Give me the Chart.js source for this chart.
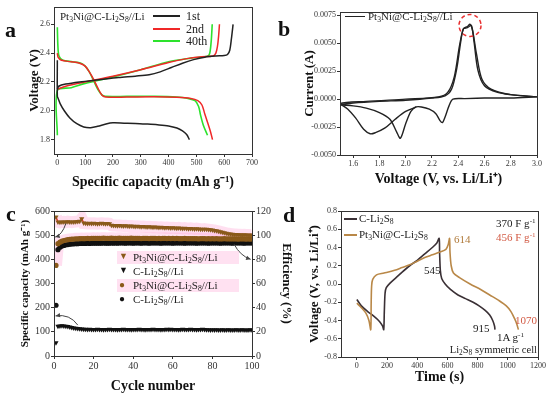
<!DOCTYPE html>
<html>
<head>
<meta charset="utf-8">
<script src="https://cdn.jsdelivr.net/npm/chart.js@4.4.0/dist/chart.umd.min.js"></script>
<style>
body{margin:0;background:#fff;width:550px;height:396px;position:relative;overflow:hidden;font-family:"Liberation Serif","Times New Roman",serif;color:#222;}
canvas{position:absolute;}
.t{position:absolute;white-space:nowrap;line-height:1;}
.big{font-weight:bold;font-size:22px;color:#111;}
.ln{position:absolute;height:0;}
sub{font-size:70%;vertical-align:-2px;line-height:0;}
sup{font-size:65%;vertical-align:4px;line-height:0;}
</style>
</head>
<body>
<canvas id="ca" width="275" height="195" style="left:0;top:0"></canvas>
<canvas id="cb" width="275" height="195" style="left:275px;top:0"></canvas>
<canvas id="cc" width="295" height="201" style="left:0;top:195px"></canvas>
<canvas id="cd" width="253" height="201" style="left:297px;top:195px"></canvas>

<!-- panel a labels -->
<div class="t big" style="left:5px;top:19px">a</div>
<div class="t" style="left:60px;top:11px;font-size:11px">Pt<sub>3</sub>Ni@C-Li<sub>2</sub>S<sub>8</sub>//Li</div>
<div class="ln" style="left:153px;top:15px;width:27px;border-top:2px solid #222"></div>
<div class="ln" style="left:153px;top:28px;width:27px;border-top:2px solid #f02828"></div>
<div class="ln" style="left:153px;top:40px;width:27px;border-top:2px solid #2de22d"></div>
<div class="t" style="left:186px;top:10px;font-size:12px">1st</div>
<div class="t" style="left:186px;top:23px;font-size:12px">2nd</div>
<div class="t" style="left:186px;top:35px;font-size:12px">40th</div>

<!-- panel b labels -->
<div class="t big" style="left:278px;top:18px">b</div>
<div class="ln" style="left:345px;top:16px;width:20px;border-top:1.5px solid #222"></div>
<div class="t" style="left:368px;top:11px;font-size:11px">Pt<sub>3</sub>Ni@C-Li<sub>2</sub>S<sub>8</sub>//Li</div>

<!-- panel c labels -->
<div class="t big" style="left:6px;top:203px">c</div>
<div class="t" style="left:117px;top:251px;width:122px;height:13px;background:rgba(255,200,230,0.55)"></div>
<div class="t" style="left:117px;top:279px;width:122px;height:13px;background:rgba(255,200,230,0.55)"></div>
<div class="t" style="left:119px;top:252px;font-size:9px;color:#8a5a1a">&#9660;</div>
<div class="t" style="left:133px;top:252px;font-size:11px">Pt<sub>3</sub>Ni@C-Li<sub>2</sub>S<sub>8</sub>//Li</div>
<div class="t" style="left:119px;top:266px;font-size:9px;color:#111">&#9660;</div>
<div class="t" style="left:133px;top:266px;font-size:11px">C-Li<sub>2</sub>S<sub>8</sub>//Li</div>
<div class="t" style="left:119px;top:280px;font-size:10px;color:#8a5a1a">&#9679;</div>
<div class="t" style="left:133px;top:280px;font-size:11px">Pt<sub>3</sub>Ni@C-Li<sub>2</sub>S<sub>8</sub>//Li</div>
<div class="t" style="left:119px;top:294px;font-size:10px;color:#111">&#9679;</div>
<div class="t" style="left:133px;top:294px;font-size:11px">C-Li<sub>2</sub>S<sub>8</sub>//Li</div>

<!-- panel d labels -->
<div class="t big" style="left:283px;top:204px">d</div>
<div class="ln" style="left:344px;top:218px;width:13px;border-top:2px solid #3a3035"></div>
<div class="ln" style="left:344px;top:234px;width:13px;border-top:2px solid #b98848"></div>
<div class="t" style="left:359px;top:213px;font-size:11px">C-Li<sub>2</sub>S<sub>8</sub></div>
<div class="t" style="left:359px;top:229px;font-size:11px">Pt<sub>3</sub>Ni@C-Li<sub>2</sub>S<sub>8</sub></div>
<div class="t" style="left:496px;top:218px;font-size:11px">370 F g<sup>-1</sup></div>
<div class="t" style="left:496px;top:232px;font-size:11px;color:#d25a44">456 F g<sup>-1</sup></div>
<div class="t" style="left:424px;top:265px;font-size:11px">545</div>
<div class="t" style="left:454px;top:234px;font-size:11px;color:#b07a3a">614</div>
<div class="t" style="left:473px;top:323px;font-size:11px">915</div>
<div class="t" style="left:515px;top:315px;font-size:11px;color:#d25a44">1070</div>
<div class="t" style="left:497px;top:332px;font-size:11px">1A g<sup>-1</sup></div>
<div class="t" style="right:13px;top:345px;font-size:10.5px">Li<sub>2</sub>S<sub>8</sub> symmetric cell</div>

<script>
// ---- panel a: charge / discharge profiles (capacity, voltage)
var aFirstDis = [[0,2.35],[0,2.1],[3,2.085],[10,2.05],[25,2.0],[45,1.95],[70,1.91],[95,1.888],[120,1.883],[145,1.892],[175,1.908],[200,1.916],[240,1.914],[280,1.912],[320,1.908],[360,1.903],[400,1.895],[430,1.88],[450,1.86],[465,1.835],[475,1.8]];
var aFirstCha = [[0,2.15],[5,2.17],[30,2.185],[80,2.2],[150,2.215],[220,2.23],[280,2.24],[330,2.25],[370,2.27],[410,2.3],[450,2.33],[490,2.355],[530,2.372],[570,2.38],[600,2.383],[612,2.39],[620,2.42],[626,2.5],[632,2.6]];
var aSecondDis = [[0,2.4],[3,2.37],[15,2.35],[50,2.34],[80,2.33],[100,2.31],[115,2.27],[130,2.22],[145,2.16],[160,2.11],[175,2.095],[250,2.095],[350,2.097],[430,2.093],[480,2.085],[505,2.07],[520,2.04],[530,1.98],[540,1.92],[550,1.86],[558,1.8]];
var aSecondCha = [[0,2.15],[30,2.17],[100,2.2],[200,2.24],[300,2.285],[400,2.335],[460,2.36],[520,2.375],[560,2.38],[570,2.4],[576,2.45],[580,2.52],[583,2.6]];
var aFortiethDis = [[0,2.58],[2,2.45],[6,2.38],[20,2.35],[55,2.34],[85,2.33],[100,2.31],[115,2.27],[130,2.21],[145,2.15],[160,2.11],[172,2.1],[250,2.1],[350,2.1],[430,2.095],[470,2.085],[495,2.07],[508,2.03],[515,1.97],[525,1.9],[540,1.83]];
var aFortiethCha = [[0,1.83],[0,2.14],[50,2.16],[100,2.19],[200,2.235],[300,2.285],[400,2.34],[480,2.365],[530,2.375],[545,2.385],[550,2.42],[554,2.5],[557,2.6]];
var aXTicks = [0,100,200,300,400,500,600,700];
var aYTicks = [1.8,2.0,2.2,2.4,2.6];

// ---- panel b: cyclic voltammetry (voltage, current)
var bCycle1 = [[3.0,0.0002],[2.8,0.0001],[2.6,0.0001],[2.45,0.00005],[2.36,0],[2.33,-0.0006],[2.3,-0.0016],[2.28,-0.0021],[2.26,-0.0019],[2.23,-0.0013],[2.18,-0.0009],[2.12,-0.0007],[2.08,-0.0007],[2.04,-0.0011],[2.0,-0.0022],[1.96,-0.0035],[1.93,-0.0029],[1.88,-0.0018],[1.8,-0.0012],[1.7,-0.0008],[1.6,-0.0006],[1.5,-0.0005],[1.6,-0.00035],[1.8,-0.0002],[2.0,-0.0001],[2.2,0.0001],[2.3,0.0003],[2.35,0.0009],[2.39,0.0028],[2.42,0.0052],[2.44,0.0063],[2.47,0.0064],[2.5,0.0066],[2.52,0.0052],[2.55,0.0026],[2.6,0.0012],[2.7,0.0006],[2.8,0.0004],[3.0,0.0002]];
var bCycle2 = [[2.08,-0.0007],[2.0,-0.0011],[1.92,-0.0018],[1.84,-0.0026],[1.77,-0.003],[1.73,-0.0031],[1.68,-0.0027],[1.62,-0.0017],[1.56,-0.0009],[1.5,-0.0004],[1.7,-0.0002],[2.0,0],[2.25,0.0002],[2.32,0.0006],[2.37,0.002],[2.41,0.0048],[2.44,0.0063],[2.47,0.0065],[2.49,0.0067],[2.51,0.0061],[2.54,0.004],[2.58,0.0018],[2.65,0.0009],[2.8,0.0004],[3.0,0.0002]];
var bXTicks = [1.6,1.8,2.0,2.2,2.4,2.6,2.8,3.0];
var bYTicks = [-0.005,-0.0025,0,0.0025,0.005,0.0075];

// ---- panel c: cycling (capacity mAh/g, efficiency %)
var capPt = [575,555,553,554,555,554,556,555,554,555,556,557,558,568,550,549,548,549,548,549,548,547,548,549,548,547,548,547,541,540,
  540,539,540,539,538,539,538,537,538,537,536,537,536,535,536,535,534,535,534,533,534,533,532,533,532,531,532,531,530,531,
  530,529,530,529,528,529,528,527,528,527,526,527,526,525,524,525,524,523,522,521,519,518,516,514,512,510,508,506,505,504,
  503,503,502,502,501,502,501,501,500,501];
var capC = [55,123,124,125,124,123,122,120,118,116,115,114,113,112,111,111,110,111,110,110,
  110,111,110,110,109,110,110,111,110,110,110,109,110,110,111,110,110,110,109,110,
  110,110,111,110,110,109,110,110,110,111,110,110,110,109,110,110,111,110,111,110,
  110,110,109,110,111,110,110,110,111,110,110,109,110,110,111,110,109,109,108,109,
  108,109,108,108,109,108,108,109,108,108,108,109,108,108,109,108,108,108,109,108];
var effPt = [75,93,94.2,95,95.6,96,96.3,96.5,96.7,96.8,97,97,97.1,97.2,97.1,97.2,97.3,97.2,97.3,97.4,
  97.3,97.4,97.3,97.4,97.5,97.4,97.3,97.4,97.5,97.4,97.3,97.4,97.5,97.4,97.3,97.4,97.3,97.4,97.5,97.4,
  97.3,97.4,97.3,97.2,97.3,97.4,97.3,97.2,97.3,97.4,97.3,97.2,97.3,97.2,97.3,97.4,97.2,97.3,97.2,97.3,
  97.2,97.3,97.2,97.1,97.2,97.3,97.2,97.1,97.2,97.1,97.2,97.1,97.0,97.1,97.2,97.1,97.0,97.1,97.0,97.1,
  97.0,97.1,97.0,96.9,97.0,97.1,97.0,96.9,97.0,96.9,97.0,96.9,96.8,96.9,97.0,96.9,96.8,96.9,96.8,96.9];
var effC = [42,88,90,91,91.5,92,92.2,92.5,92.7,92.8,93,93,93.1,93.2,93.1,93.2,93.3,93.2,93.3,93.4,
  93.3,93.4,93.3,93.4,93.5,93.4,93.3,93.4,93.5,93.4,93.5,93.4,93.5,93.6,93.5,93.4,93.5,93.6,93.5,93.4,
  93.5,93.6,93.5,93.4,93.5,93.6,93.5,93.4,93.5,93.6,93.5,93.6,93.5,93.4,93.5,93.6,93.5,93.6,93.5,93.4,
  93.5,93.6,93.5,93.6,93.5,93.4,93.5,93.6,93.5,93.6,93.5,93.4,93.5,93.6,93.5,93.6,93.5,93.4,93.5,93.6,
  93.5,93.6,93.5,93.4,93.5,93.6,93.5,93.6,93.5,93.4,93.5,93.6,93.5,93.6,93.5,93.4,93.5,93.6,93.5,93.6];
var cXTicks = [0,20,40,60,80,100];
var cYTicks = [0,100,200,300,400,500,600];
var cY1Ticks = [0,20,40,60,80,100,120];

// ---- panel d: symmetric cell (time s, voltage V)
var dCarbon = [[0,-0.17],[30,-0.24],[70,-0.3],[110,-0.35],[150,-0.41],[170,-0.46],[178,-0.5],[182,-0.3],[187,-0.1],[195,-0.04],[220,0.01],[260,0.07],[300,0.13],[350,0.2],[400,0.26],[450,0.33],[500,0.4],[530,0.45],[545,0.5],[548,0.35],[553,0.15],[562,0.06],[585,0.0],[620,-0.06],[670,-0.12],[720,-0.16],[770,-0.2],[810,-0.24],[850,-0.29],[880,-0.34],[900,-0.4],[912,-0.46],[915,-0.5]];
var dPt3Ni = [[0,-0.21],[30,-0.26],[60,-0.32],[80,-0.4],[92,-0.5],[95,-0.2],[98,-0.02],[105,0.05],[130,0.1],[180,0.12],[250,0.15],[300,0.18],[350,0.21],[400,0.25],[450,0.29],[500,0.32],[550,0.35],[590,0.38],[605,0.43],[614,0.5],[617,0.35],[625,0.2],[640,0.12],[680,0.07],[750,0.0],[820,-0.06],[880,-0.12],[940,-0.18],[990,-0.24],[1020,-0.3],[1045,-0.38],[1060,-0.44],[1070,-0.5]];
var dXTicks = [0,200,400,600,800,1000,1200];
var dYTicks = [-0.8,-0.6,-0.4,-0.2,0,0.2,0.4,0.6,0.8];

var FONT = "'Liberation Serif', 'Times New Roman', serif";
Chart.defaults.font.family = FONT;
Chart.defaults.color = '#222';
Chart.defaults.animation = false;

var cycles = [];
for (var i = 1; i <= capPt.length; i++) cycles.push(i);

function pts(list) { return list.map(function(p) { return {x: p[0], y: p[1]}; }); }
function byCycle(vals) { return vals.map(function(v, k) { return {x: cycles[k], y: v}; }); }
function fixTicks(list) { return function(s) { s.ticks = list.map(function(v) { return {value: v}; }); }; }

// one axis config, all panels look the same
function ax(min, max, ticks, fmt, tickSize, title, tsize, fit, isX, pos) {
  var o = {
    type: 'linear', min: min, max: max,
    afterBuildTicks: fixTicks(ticks),
    ticks: {font: {size: tickSize}, padding: 1, color: '#333', callback: fmt},
    grid: {drawOnChartArea: false, color: '#333', tickLength: 3},
    border: {color: '#333', width: 1},
    title: {display: true, text: title, color: '#111', font: {size: tsize, weight: 'bold'}, padding: {top: 1, bottom: 1}},
    afterFit: isX ? function(s) { s.height = fit; } : function(s) { s.width = fit; }
  };
  if (pos) o.position = pos;
  return o;
}
function f1(v) { return v.toFixed(1); }
function f4(v) { return v.toFixed(4); }
function f0(v) { return String(v); }

// frame around the plot area, plus any extra drawing for the panel
function framePlugin(extra) {
  return {
    id: 'frame',
    afterDraw: function(chart) {
      var a = chart.chartArea, c = chart.ctx;
      c.save();
      c.strokeStyle = '#333';
      c.lineWidth = 1;
      c.strokeRect(Math.round(a.left) + 0.5, Math.round(a.top) + 0.5, Math.round(a.right - a.left), Math.round(a.bottom - a.top));
      c.restore();
      if (extra) extra(chart);
    }
  };
}

function line(data, color, w) {
  return {data: pts(data), showLine: true, borderColor: color, borderWidth: w, pointRadius: 0, tension: 0.3};
}

function opts(scales, padding) {
  return {
    responsive: false,
    layout: {padding: padding},
    plugins: {legend: {display: false}, tooltip: {enabled: false}},
    scales: scales
  };
}

// panel a
new Chart(document.getElementById('ca'), {
  type: 'scatter',
  data: {datasets: [
    line(aFirstDis, '#222', 1.5), line(aFirstCha, '#222', 1.5),
    line(aSecondDis, '#f02828', 1.5), line(aSecondCha, '#f02828', 1.5),
    line(aFortiethDis, '#2de22d', 1.6), line(aFortiethCha, '#2de22d', 1.6)
  ]},
  options: opts({
    x: ax(-12, 700, aXTicks, f0, 8, 'Specific capacity (mAh g\u207B\u00B9)', 14, 38, true),
    y: ax(1.7, 2.72, aYTicks, f1, 8, 'Voltage (V)', 13, 28, false)
  }, {left: 26, right: 23, top: 7, bottom: 3}),
  plugins: [framePlugin()]
});

// panel b
new Chart(document.getElementById('cb'), {
  type: 'scatter',
  data: {datasets: [line(bCycle1, '#222', 1.4), line(bCycle2, '#222', 1.4)]},
  options: opts({
    x: ax(1.5, 3.0, bXTicks, f1, 8, 'Voltage (V, vs. Li/Li\u207A)', 14, 34, true),
    y: ax(-0.005, 0.0078, bYTicks, f4, 8, 'Current (A)', 13, 39, false)
  }, {left: 26, right: 13, top: 12, bottom: 6}),
  plugins: [framePlugin(function(chart) {
    var c = chart.ctx, x = chart.scales.x.getPixelForValue(2.49), y = chart.scales.y.getPixelForValue(0.0066);
    c.save();
    c.strokeStyle = '#e83030';
    c.lineWidth = 1.5;
    c.setLineDash([4, 3]);
    c.beginPath();
    c.ellipse(x, y, 11, 11, 0, 0, Math.PI * 2);
    c.stroke();
    c.restore();
  })]
});

// panel c
function arrow(c, p0, p1, p2) {
  c.beginPath();
  c.moveTo(p0[0], p0[1]);
  c.quadraticCurveTo(p1[0], p1[1], p2[0], p2[1]);
  c.stroke();
  var ang = Math.atan2(p2[1] - p1[1], p2[0] - p1[0]);
  c.beginPath();
  c.moveTo(p2[0], p2[1]);
  c.lineTo(p2[0] - 5 * Math.cos(ang - 0.45), p2[1] - 5 * Math.sin(ang - 0.45));
  c.lineTo(p2[0] - 5 * Math.cos(ang + 0.45), p2[1] - 5 * Math.sin(ang + 0.45));
  c.closePath();
  c.fill();
}
var brown = '#8a5a1a';
var glow = 'rgba(255,150,205,0.3)';
new Chart(document.getElementById('cc'), {
  type: 'scatter',
  data: {datasets: [
    {data: byCycle(capPt), showLine: true, borderColor: glow, borderWidth: 12, pointRadius: 0, order: 9},
    {data: byCycle(effPt), yAxisID: 'y1', showLine: true, borderColor: glow, borderWidth: 12, pointRadius: 0, order: 9},
    {data: byCycle(effC), yAxisID: 'y1', pointStyle: 'circle', pointRadius: 2.6, pointBackgroundColor: '#111', pointBorderWidth: 0, order: 4},
    {data: byCycle(effPt), yAxisID: 'y1', pointStyle: 'circle', pointRadius: 2.6, pointBackgroundColor: brown, pointBorderWidth: 0, order: 3},
    {data: byCycle(capC), pointStyle: 'triangle', rotation: 180, pointRadius: 3, pointBackgroundColor: '#111', pointBorderWidth: 0, order: 2},
    {data: byCycle(capPt), showLine: true, borderColor: '#e8322a', borderWidth: 1.5, pointStyle: 'triangle', rotation: 180, pointRadius: 3, pointBackgroundColor: brown, pointBorderWidth: 0, order: 1}
  ]},
  options: opts({
    x: ax(0, 100, cXTicks, f0, 10, 'Cycle number', 14, 40, true),
    y: ax(0, 600, cYTicks, f0, 10, 'Specific capacity (mAh g\u207B\u00B9)', 11, 36, false, 'left'),
    y1: ax(0, 120, cY1Ticks, f0, 10, 'Efficiency (%)', 13, 43, false, 'right')
  }, {left: 18, right: 0, top: 16, bottom: 0}),
  plugins: [framePlugin(function(chart) {
    var c = chart.ctx, sx = chart.scales.x, sy = chart.scales.y;
    function P(x, y) { return [sx.getPixelForValue(x), sy.getPixelForValue(y)]; }
    c.save();
    c.strokeStyle = '#444';
    c.fillStyle = '#444';
    c.lineWidth = 1;
    arrow(c, P(6, 548), P(4, 500), P(0.6, 492));
    arrow(c, P(12, 128), P(8, 175), P(0.8, 166));
    arrow(c, P(91, 462), P(94, 415), P(99.3, 400));
    c.restore();
  })]
});

// panel d
new Chart(document.getElementById('cd'), {
  type: 'scatter',
  data: {datasets: [line(dPt3Ni, '#b98848', 1.6), line(dCarbon, '#3a3035', 1.6)]},
  options: opts({
    x: ax(-105, 1200, dXTicks, f0, 8, 'Time (s)', 14, 30, true),
    y: ax(-0.8, 0.8, dYTicks, f1, 8, 'Voltage (V, vs. Li/Li\u207A)', 13, 35, false)
  }, {left: 9, right: 12, top: 16, bottom: 9}),
  plugins: [framePlugin()]
});
</script>
</body>
</html>
